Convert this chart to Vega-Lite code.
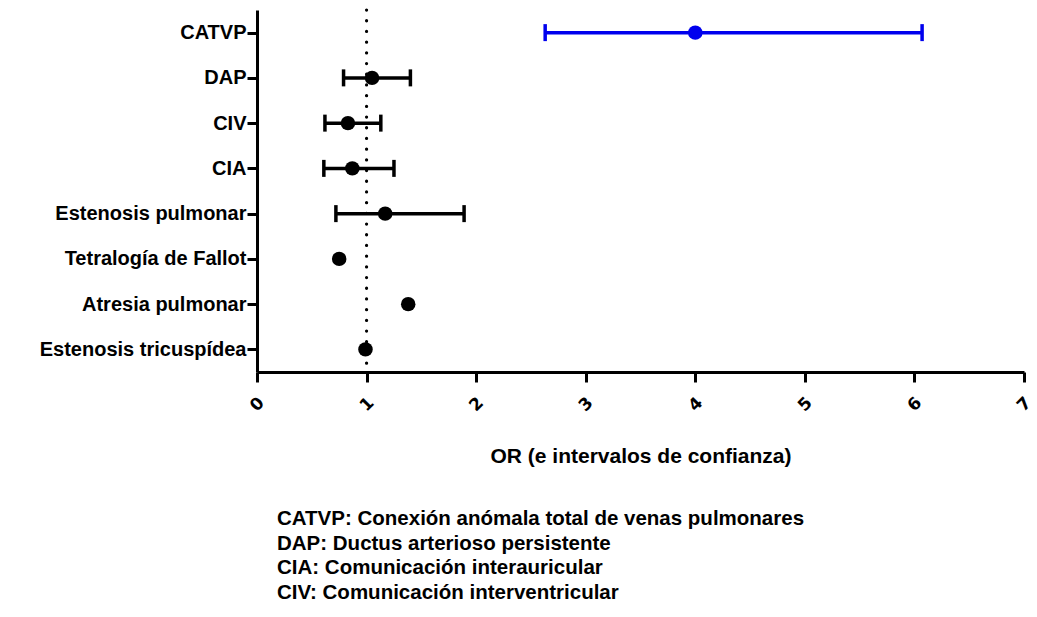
{
  "$schema": "https://vega.github.io/schema/vega-lite/v6.json",
  "width": 767,
  "height": 362,
  "autosize": {"type": "none"},
  "padding": {"left": 257, "top": 10, "right": 13, "bottom": 245},
  "background": "white",
  "config": {"view": {"stroke": null}},
  "datasets": {
    "or": [
      {"grupo": "CATVP", "or": 4.0, "low": 2.63, "high": 6.07, "serie": "CATVP"},
      {"grupo": "DAP", "or": 1.05, "low": 0.79, "high": 1.40, "serie": "otros"},
      {"grupo": "CIV", "or": 0.83, "low": 0.62, "high": 1.13, "serie": "otros"},
      {"grupo": "CIA", "or": 0.87, "low": 0.61, "high": 1.25, "serie": "otros"},
      {"grupo": "Estenosis pulmonar", "or": 1.17, "low": 0.72, "high": 1.89, "serie": "otros"},
      {"grupo": "Tetralogía de Fallot", "or": 0.75, "low": null, "high": null, "serie": "otros"},
      {"grupo": "Atresia pulmonar", "or": 1.38, "low": null, "high": null, "serie": "otros"},
      {"grupo": "Estenosis tricuspídea", "or": 0.99, "low": null, "high": null, "serie": "otros"}
    ],
    "ref": [{"x": 1}]
  },
  "title": {
    "text": ["CATVP: Conexión anómala total de venas pulmonares", "DAP: Ductus arterioso persistente", "CIA: Comunicación interauricular", "CIV: Comunicación interventricular"],
    "orient": "bottom",
    "anchor": "start",
    "frame": "group",
    "dx": 20,
    "offset": 42,
    "font": "Liberation Sans",
    "fontSize": 20.5,
    "fontWeight": "bold",
    "lineHeight": 24.7,
    "color": "black"
  },
  "layer": [
    {
      "data": {"name": "ref"},
      "mark": {"type": "rule", "strokeDash": [0.1, 10.6], "strokeWidth": 3.2, "strokeCap": "round", "color": "black"},
      "encoding": {"x": {"field": "x", "type": "quantitative"}}
    },
    {
      "data": {"name": "or"},
      "mark": {"type": "rule", "strokeWidth": 3.5, "opacity": 1},
      "encoding": {
        "y": {"field": "grupo", "type": "nominal", "sort": ["CATVP", "DAP", "CIV", "CIA", "Estenosis pulmonar", "Tetralogía de Fallot", "Atresia pulmonar", "Estenosis tricuspídea"]},
        "x": {"field": "low", "type": "quantitative"},
        "x2": {"field": "high"},
        "color": {"field": "serie", "type": "nominal", "scale": {"domain": ["CATVP", "otros"], "range": ["#0000ee", "black"]}, "legend": null}
      }
    },
    {
      "data": {"name": "or"},
      "mark": {"type": "tick", "orient": "vertical", "thickness": 3.5, "size": 17, "opacity": 1},
      "encoding": {
        "y": {"field": "grupo", "type": "nominal", "sort": ["CATVP", "DAP", "CIV", "CIA", "Estenosis pulmonar", "Tetralogía de Fallot", "Atresia pulmonar", "Estenosis tricuspídea"]},
        "x": {"field": "low", "type": "quantitative"},
        "color": {"field": "serie", "type": "nominal", "legend": null}
      }
    },
    {
      "data": {"name": "or"},
      "mark": {"type": "tick", "orient": "vertical", "thickness": 3.5, "size": 17, "opacity": 1},
      "encoding": {
        "y": {"field": "grupo", "type": "nominal", "sort": ["CATVP", "DAP", "CIV", "CIA", "Estenosis pulmonar", "Tetralogía de Fallot", "Atresia pulmonar", "Estenosis tricuspídea"]},
        "x": {"field": "high", "type": "quantitative"},
        "color": {"field": "serie", "type": "nominal", "legend": null}
      }
    },
    {
      "data": {"name": "or"},
      "mark": {"type": "point", "filled": true, "opacity": 1, "size": 210, "shape": "circle"},
      "encoding": {
        "y": {
          "field": "grupo", "type": "nominal",
          "sort": ["CATVP", "DAP", "CIV", "CIA", "Estenosis pulmonar", "Tetralogía de Fallot", "Atresia pulmonar", "Estenosis tricuspídea"],
          "scale": {"type": "point", "padding": 0.5},
          "axis": {
            "title": null,
            "domainColor": "black", "domainWidth": 3,
            "tickColor": "black", "tickWidth": 3, "tickSize": 10,
            "labelFont": "Liberation Sans", "labelFontSize": 20, "labelFontWeight": "bold", "labelColor": "black",
            "labelPadding": 1, "labelLimit": 0
          }
        },
        "x": {
          "field": "or", "type": "quantitative",
          "scale": {"domain": [0, 7], "nice": false, "zero": false},
          "axis": {
            "values": [0, 1, 2, 3, 4, 5, 6, 7],
            "format": "d",
            "grid": false,
            "title": "OR (e intervalos de confianza)",
            "titleFont": "Liberation Sans", "titleFontSize": 21, "titleFontWeight": "bold", "titleColor": "black",
            "titlePadding": 32,
            "domainColor": "black", "domainWidth": 3,
            "tickColor": "black", "tickWidth": 3, "tickSize": 10,
            "labelFont": "DejaVu Sans", "labelFontSize": 17, "labelFontWeight": "bold", "labelColor": "black",
            "labelAngle": -45, "labelAlign": "center", "labelBaseline": "middle", "labelPadding": 22
          }
        },
        "color": {"field": "serie", "type": "nominal", "legend": null}
      }
    }
  ]
}
